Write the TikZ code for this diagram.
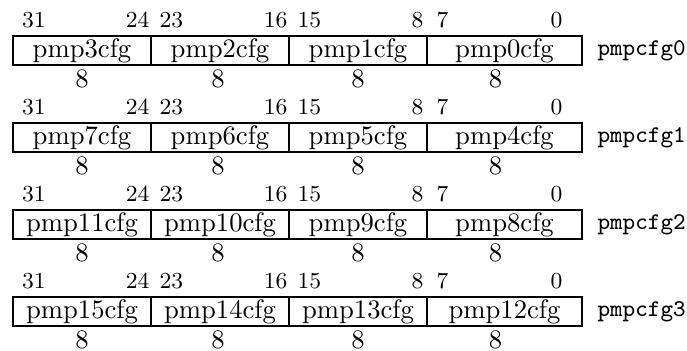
\documentclass[tikz,border=0pt]{standalone}
\begin{document}
\begin{tikzpicture}[x=0.375pt,y=-0.375pt]
\tikzset{
  bitnum/.style={font=\fontsize{8.6}{10}\selectfont, inner sep=0pt},
  field/.style={draw, line width=0.5pt, minimum height=10.875pt, inner sep=0pt, font=\normalsize},
  width8/.style={inner sep=0pt, font=\normalsize},
  regname/.style={anchor=west, inner sep=0pt, font=\small\ttfamily}
}
\useasboundingbox (0,0) rectangle (687,350);
\foreach \r/\a/\b/\c/\d in {0/3/2/1/0, 1/7/6/5/4, 2/11/10/9/8, 3/15/14/13/12}{
  \pgfmathsetmacro{\yo}{87*\r}
  % bit numbers
  \node[bitnum, anchor=west] (b31-\r) at (21.5, 20+\yo) {31};
  \node[bitnum, anchor=east] (b24-\r) at (150, 20+\yo) {24};
  \node[bitnum, anchor=west] (b23-\r) at (159, 20+\yo) {23};
  \node[bitnum, anchor=east] (b16-\r) at (288, 20+\yo) {16};
  \node[bitnum, anchor=west] (b15-\r) at (297, 20+\yo) {15};
  \node[bitnum, anchor=east] (b8-\r) at (424, 20+\yo) {8};
  \node[bitnum, anchor=west] (b7-\r) at (436, 20+\yo) {7};
  \node[bitnum, anchor=east] (b0-\r) at (563, 20+\yo) {0};
  % fields
  \node[field, minimum width=51.75pt] (f3-\r) at (82, 50.5+\yo) {pmp\a cfg};
  \node[field, minimum width=51.75pt] (f2-\r) at (220, 50.5+\yo) {pmp\b cfg};
  \node[field, minimum width=51.75pt] (f1-\r) at (358, 50.5+\yo) {pmp\c cfg};
  \node[field, minimum width=58.125pt] (f0-\r) at (504.5, 50.5+\yo) {pmp\d cfg};
  % widths
  \node[width8] (w3-\r) at (82, 78.5+\yo) {8};
  \node[width8] (w2-\r) at (218, 78.5+\yo) {8};
  \node[width8] (w1-\r) at (358, 78.5+\yo) {8};
  \node[width8] (w0-\r) at (495.5, 78.5+\yo) {8};
  % register name
  \node[regname] (reg-\r) at (597, 50.5+\yo) {pmpcfg\r};
}
\end{tikzpicture}
\end{document}
